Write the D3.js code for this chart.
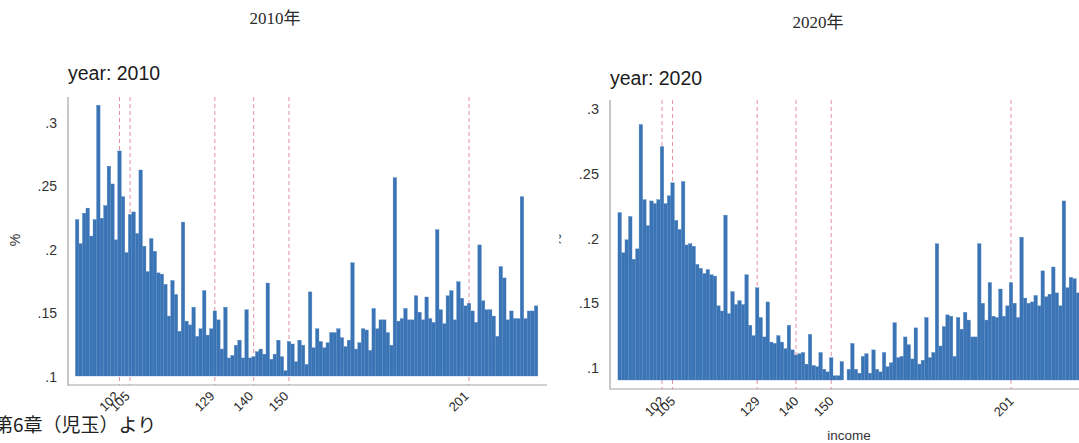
<!DOCTYPE html>
<html><head><meta charset="utf-8">
<script src="https://cdn.jsdelivr.net/npm/d3@7"></script>
<style>body{margin:0;background:#fff;} svg{display:block;}</style>
</head><body>
<svg id="c" width="1079" height="443"></svg>
<script>
// ---- data ----
const incomeBins = [90,91,92,93,94,95,96,97,98,99,100,101,102,103,104,105,106,107,108,109,110,111,112,113,114,115,116,117,118,119,120,121,122,123,124,125,126,127,128,129,130,131,132,133,134,135,136,137,138,139,140,141,142,143,144,145,146,147,148,149,150,151,152,153,154,155,156,157,158,159,160,161,162,163,164,165,166,167,168,169,170,171,172,173,174,175,176,177,178,179,180,181,182,183,184,185,186,187,188,189,190,191,192,193,194,195,196,197,198,199,200,201,202,203,204,205,206,207,208,209,210,211,212,213,214,215,216,217,218,219,220];

const share2010 = [
.224,.205,.229,.233,.211,.224,.314,.225,.235,.266,
.252,.208,.278,.242,.198,.228,.230,.213,.263,.203,
.183,.209,.199,.182,.181,.173,.148,.176,.165,.136,
.222,.144,.141,.155,.132,.138,.168,.133,.138,.152,
.145,.122,.155,.115,.117,.125,.129,.115,.153,.115,
.116,.120,.122,.118,.174,.114,.118,.129,.116,.105,
.128,.126,.112,.129,.125,.110,.167,.123,.138,.128,
.123,.127,.135,.135,.138,.131,.124,.129,.190,.122,
.127,.138,.137,.121,.154,.138,.145,.145,.135,.125,
.257,.144,.146,.154,.145,.145,.164,.151,.145,.163,
.146,.143,.216,.153,.142,.164,.168,.145,.175,.162,
.156,.158,.152,.143,.204,.160,.153,.153,.148,.132,
.187,.178,.145,.152,.146,.146,.242,.146,.152,.152,
.156];

const share2020 = [
.220,.189,.199,.217,.184,.192,.288,.230,.210,.229,
.227,.230,.271,.227,.233,.243,.214,.207,.244,.195,
.196,.194,.180,.177,.173,.176,.172,.171,.148,.144,
.218,.142,.159,.149,.152,.149,.172,.133,.125,.162,
.139,.124,.151,.120,.119,.125,.120,.115,.133,.114,
.110,.111,.112,.103,.126,.102,.101,.112,.099,.097,
.108,.094,.094,.105,null,.099,.119,.099,.096,.109,
.111,.096,.114,.099,.097,.112,.101,.104,.135,.108,
.109,.124,.118,.107,.131,.103,.106,.139,.108,.112,
.196,.117,.132,.141,.140,.109,.139,.130,.143,.137,
.124,.124,.196,.150,.137,.166,.140,.139,.161,.140,
.148,.166,.150,.139,.201,.154,.150,.151,.156,.148,
.175,.155,.157,.178,.158,.148,.229,.162,.170,.169,
.158];

const cutoffs = [102, 105, 129, 140, 150, 201];
const cutoffLabels = ["102", "105", "129", "140", "150", "201"];
const yTicks = [0.1, 0.15, 0.2, 0.25, 0.3];
const yTickLabels = [".1", ".15", ".2", ".25", ".3"];
const years = ["2010", "2020"];

// ---- drawing ----
const svg = d3.select("#c");
const SANS = "'Liberation Sans', Arial, 'Noto Sans CJK JP', sans-serif";
const SERIF = "'Liberation Serif', 'Times New Roman', 'Noto Sans CJK JP', serif";
const BAR = "#3a74b5";
const DASH = "#e3939f";
const AXIS = "#a3a3a3";

svg.append("defs").append("clipPath").attr("id", "rightClip")
  .append("rect").attr("x", 559).attr("y", 0).attr("width", 600).attr("height", 443);

const panels = [
  { values: share2010, year: years[0], xr: [119.5, 469], yr: [377, 123], base: 376,
    axX: 68, axTop: 97, axY: 385, axRight: 547, tickRight: 57, tickFont: 14,
    pctX: 20, titleX: 275, titleY: 24, subY: 80, lblDx: 0, lblDy: 12, clip: null, income: false },
  { values: share2020, year: years[1], xr: [662, 1011], yr: [368, 109], base: 380,
    axX: 610, axTop: 100, axY: 389, axRight: 1120, tickRight: 599, tickFont: 14.5,
    pctX: 561, titleX: 818, titleY: 28, subY: 85, lblDx: 3, lblDy: 13, clip: "url(#rightClip)", income: true }
];

panels.forEach(p => {
  const g = svg.append("g");
  if (p.clip) g.attr("clip-path", p.clip);

  const x = d3.scaleLinear().domain([cutoffs[0], cutoffs[cutoffs.length - 1]]).range(p.xr);
  const y = d3.scaleLinear().domain([yTicks[0], yTicks[yTicks.length - 1]]).range(p.yr);

  // dashed cutoff lines (behind bars)
  g.append("g").selectAll("line").data(cutoffs).join("line")
    .attr("x1", d => x(d)).attr("x2", d => x(d))
    .attr("y1", p.axTop).attr("y2", p.axY)
    .attr("stroke", DASH).attr("stroke-width", 1)
    .attr("stroke-dasharray", "4,3");

  const bars = incomeBins.map((b, i) => ({ b, v: p.values[i] })).filter(d => d.v != null);
  g.append("g").selectAll("rect").data(bars).join("rect")
    .attr("x", d => x(d.b - 0.5))
    .attr("width", d => x(d.b + 0.5) - x(d.b - 0.5))
    .attr("y", d => y(d.v))
    .attr("height", d => p.base - y(d.v))
    .attr("fill", BAR)
    .attr("stroke", "#5288c4")
    .attr("stroke-width", 0.35);

  // axes lines
  g.append("line").attr("x1", p.axX).attr("x2", p.axX).attr("y1", p.axTop).attr("y2", p.axY + 0.5)
    .attr("stroke", AXIS).attr("stroke-width", 1.2);
  g.append("line").attr("x1", p.axX).attr("x2", p.axRight).attr("y1", p.axY).attr("y2", p.axY)
    .attr("stroke", AXIS).attr("stroke-width", 1.2);

  // y axis tick labels via d3 axis
  const ya = g.append("g").attr("transform", `translate(${p.tickRight},0)`)
    .call(d3.axisLeft(y).tickValues(yTicks).tickFormat((d, i) => yTickLabels[i]).tickSize(0).tickPadding(0));
  ya.select(".domain").remove();
  ya.selectAll("text").attr("font-family", SANS).attr("font-size", p.tickFont).attr("fill", "#333");

  // x axis tick labels via d3 axis
  const xa = g.append("g").attr("transform", `translate(0,${p.axY})`)
    .call(d3.axisBottom(x).tickValues(cutoffs).tickFormat((d, i) => cutoffLabels[i]).tickSize(0));
  xa.select(".domain").remove();
  xa.selectAll("text")
    .attr("font-family", SANS).attr("font-size", 13).attr("fill", "#2a2a2a")
    .attr("text-anchor", "end")
    .attr("dy", null).attr("y", null)
    .attr("transform", d => `translate(${p.lblDx},${p.lblDy}) rotate(-45)`);

  // y title
  g.append("text").attr("transform", `translate(${p.pctX},240) rotate(-90)`)
    .attr("text-anchor", "middle").attr("font-family", SANS).attr("font-size", 14).attr("fill", "#333")
    .text("%");

  // subtitle
  g.append("text").attr("x", p.axX).attr("y", p.subY)
    .attr("font-family", SANS).attr("font-size", 19.5).attr("fill", "#1c1c1c")
    .text("year: " + p.year);

  // panel title
  svg.append("text").attr("x", p.titleX).attr("y", p.titleY).attr("text-anchor", "middle")
    .attr("font-family", SERIF).attr("font-size", 17).attr("fill", "#2a2a2a")
    .text(p.year + "年");

  if (p.income) {
    g.append("text").attr("x", 849).attr("y", 440).attr("text-anchor", "middle")
      .attr("font-family", SANS).attr("font-size", 13.5).attr("fill", "#333")
      .text("income");
  }
});

svg.append("text").attr("x", -6).attr("y", 432)
  .attr("font-family", "'Noto Sans CJK JP', sans-serif").attr("font-size", 19).attr("fill", "#222")
  .text("第6章（児玉）より");
</script>
</body></html>
